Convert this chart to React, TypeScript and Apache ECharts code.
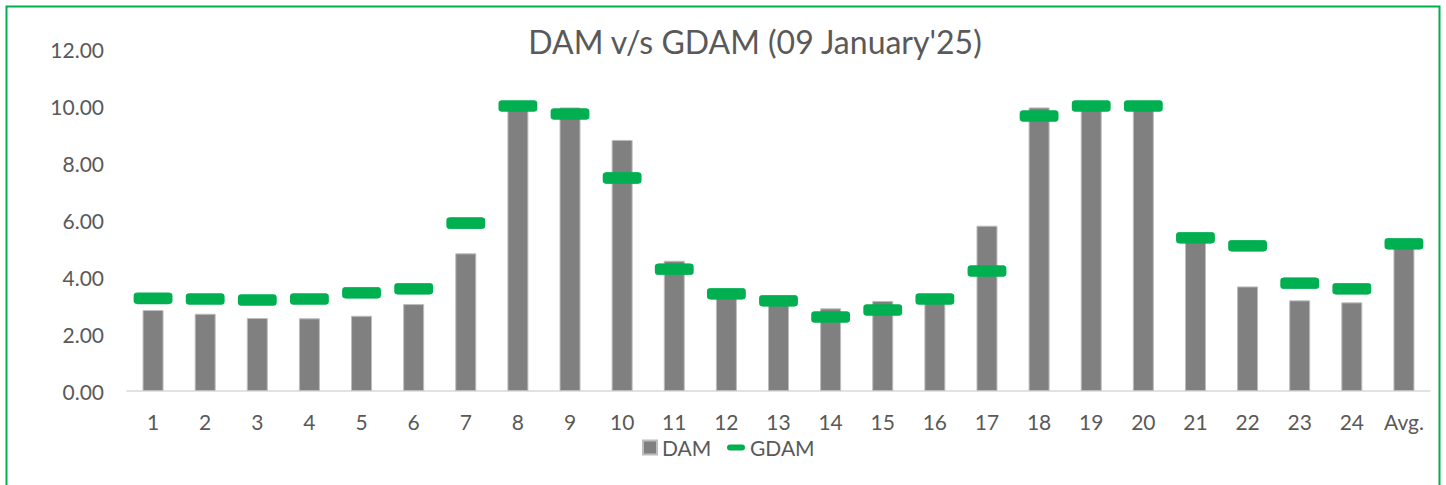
import React, { useEffect, useRef } from "react";
import * as echarts from "echarts";

const categories = ["1","2","3","4","5","6","7","8","9","10","11","12","13","14","15","16","17","18","19","20","21","22","23","24","Avg."];
const damValues = [2.84,2.71,2.56,2.55,2.64,3.05,4.83,9.97,9.95,8.81,4.57,3.38,3.12,2.90,3.16,3.15,5.80,9.95,9.98,9.98,5.25,3.67,3.18,3.11,5.05];
const gdamValues = [3.25,3.23,3.19,3.23,3.45,3.59,5.89,10.00,9.72,7.47,4.27,3.41,3.17,2.60,2.84,3.23,4.21,9.65,10.00,10.00,5.38,5.10,3.78,3.59,5.17];
const yTicks = { min: 0, max: 12, interval: 2 };
const titleText = "DAM v/s GDAM (09 January'25)";

const FONT = "Lato";
const TXT = "#595959";
const MARKER = "path://M3,0 H34 Q37,0 37,3 V8 Q37,11 34,11 H3 Q0,11 0,8 V3 Q0,0 3,0 Z";
const LEGEND_MARK = "path://M3,0 H15 Q18,0 18,3 Q18,6 15,6 H3 Q0,6 0,3 Q0,0 3,0 Z";

export default function App() {
  const ref = useRef<HTMLDivElement>(null);
  useEffect(() => {
    if (!ref.current) return;
    const chart = echarts.init(ref.current, undefined, { renderer: "svg" });
    chart.setOption({
      animation: false,
      backgroundColor: "#ffffff",
      textStyle: { fontFamily: FONT },
      title: {
        text: titleText,
        left: 750,
        textAlign: "center",
        top: 20,
        textStyle: { fontFamily: FONT, fontSize: 32, fontWeight: "normal", color: TXT },
      },
      graphic: [
        {
          type: "rect",
          shape: { x: 6.5, y: 6.5, width: 1433, height: 500 },
          style: { fill: "none", stroke: "#00B050", lineWidth: 2 },
          silent: true,
        },
      ],
      legend: [
        {
          data: [{ name: "DAM", icon: "rect" }],
          left: 642,
          top: 437,
          padding: 0,
          itemWidth: 14,
          itemHeight: 14,
          textStyle: { fontFamily: FONT, fontSize: 21, color: TXT },
        },
        {
          data: [{ name: "GDAM", icon: LEGEND_MARK }],
          left: 727,
          top: 437,
          padding: 0,
          itemWidth: 18,
          itemHeight: 6,
          textStyle: { fontFamily: FONT, fontSize: 21, color: TXT },
        },
      ],
      grid: { left: 127, right: 16, top: 49, bottom: 94, containLabel: false },
      xAxis: {
        type: "category",
        data: categories,
        axisLine: { lineStyle: { color: "#D9D9D9", width: 1.5 } },
        axisTick: { show: false },
        axisLabel: { color: TXT, fontSize: 21, fontFamily: FONT, margin: 20 },
      },
      yAxis: {
        type: "value",
        min: yTicks.min,
        max: yTicks.max,
        interval: yTicks.interval,
        splitLine: { show: false },
        axisLine: { show: false },
        axisTick: { show: false },
        axisLabel: {
          color: TXT,
          fontSize: 21,
          fontFamily: FONT,
          margin: 23,
          formatter: (v: number) => v.toFixed(2),
        },
      },
      series: [
        {
          name: "DAM",
          type: "bar",
          data: damValues,
          barWidth: 21,
          itemStyle: { color: "#808080", borderColor: "#BDBDBD", borderWidth: 1 },
          z: 2,
        },
        {
          name: "GDAM",
          type: "line",
          data: gdamValues,
          lineStyle: { width: 0, opacity: 0 },
          symbol: MARKER,
          symbolSize: [37, 11],
          showSymbol: true,
          itemStyle: { color: "#00B050", borderColor: "#00B050" },
          z: 3,
        },
      ],
    });
    return () => chart.dispose();
  }, []);
  return (
    <div
      ref={ref}
      style={{ position: "fixed", left: 0, top: 0, width: 1446, height: 485 }}
    />
  );
}
